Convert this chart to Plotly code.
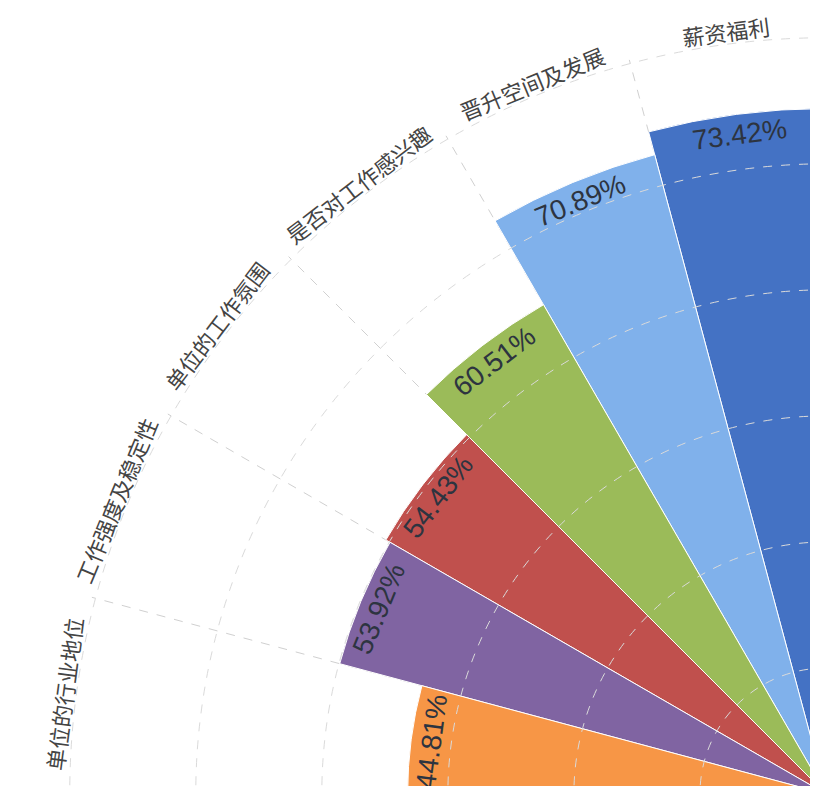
import math
import plotly.graph_objects as go

# ---- data ----
categories = ["薪资福利", "晋升空间及发展", "是否对工作感兴趣", "单位的工作氛围", "工作强度及稳定性", "单位的行业地位"]
values = [73.42, 70.89, 60.51, 54.43, 53.92, 44.81]
value_labels = ["73.42%", "70.89%", "60.51%", "54.43%", "53.92%", "44.81%"]
colors = ["#4472C4", "#80B1EB", "#9BBB59", "#C0504D", "#8064A2", "#F79646"]
radial_grid = [13.5, 27, 40.5, 54, 67.5, 81]

# ---- geometry / style ----
W, H = 818, 786
SECTOR = [90, 180]
SLOT = (SECTOR[1] - SECTOR[0]) / len(categories)
R_RANGE = 81.4
R_PX = 760  # pixel radius of the polar range
thetas = [SECTOR[0] + SLOT * (i + 0.5) for i in range(len(categories))]
boundaries = [SECTOR[0] + SLOT * i for i in range(1, len(categories))]

dom_x = [(W - R_PX) / W, 1]
dom_y = [0, R_PX / H]

fig = go.Figure()
fig.add_trace(go.Barpolar(
    r=values, theta=thetas, width=[SLOT] * len(values),
    marker=dict(color=colors, line=dict(color="white", width=1)),
    subplot="polar", showlegend=False, hoverinfo="skip",
))
fig.add_trace(go.Scatterpolar(
    r=[0], theta=[SECTOR[0]], mode="markers", marker=dict(opacity=0),
    subplot="polar2", showlegend=False, hoverinfo="skip",
))

common_radial = dict(range=[0, R_RANGE], showticklabels=False, ticks="", showline=False)
fig.update_layout(
    width=W, height=H, margin=dict(l=0, r=0, t=0, b=0),
    paper_bgcolor="white", template="none",
    polar=dict(
        domain=dict(x=dom_x, y=dom_y), sector=SECTOR, bgcolor="white",
        radialaxis=dict(**common_radial, showgrid=False),
        angularaxis=dict(tickmode="array", tickvals=boundaries, showticklabels=False, ticks="",
                         showline=False, gridcolor="#d0d0d0", griddash="dash", gridwidth=1),
    ),
    polar2=dict(
        domain=dict(x=dom_x, y=dom_y), sector=SECTOR, bgcolor="rgba(0,0,0,0)",
        radialaxis=dict(**common_radial, tickmode="array", tickvals=radial_grid,
                        showgrid=True, gridcolor="#dadada", griddash="dash", gridwidth=1.2),
        angularaxis=dict(showgrid=False, showticklabels=False, ticks="", showline=False),
    ),
)

px_per_unit = R_PX / R_RANGE
outer_px = radial_grid[-1] * px_per_unit
annotations = []
for th, cat in zip(thetas, categories):
    rr = outer_px + 13
    a = math.radians(th)
    annotations.append(dict(
        x=1 + rr * math.cos(a) / W, y=rr * math.sin(a) / H, xref="paper", yref="paper",
        text=cat, showarrow=False, textangle=-(th - 90), xanchor="center", yanchor="middle",
        font=dict(family="Noto Sans CJK SC", size=22, color="#444444"),
    ))
for th, v, lab in zip(thetas, values, value_labels):
    rr = v * px_per_unit - 20
    a = math.radians(th)
    annotations.append(dict(
        x=1 + rr * math.cos(a) / W, y=rr * math.sin(a) / H, xref="paper", yref="paper",
        text=lab, showarrow=False, textangle=-(th - 90), xanchor="center", yanchor="middle",
        font=dict(family="Liberation Sans", size=28, color="#2d3440"),
    ))
fig.update_layout(annotations=annotations)

fig.write_html("out.html")
